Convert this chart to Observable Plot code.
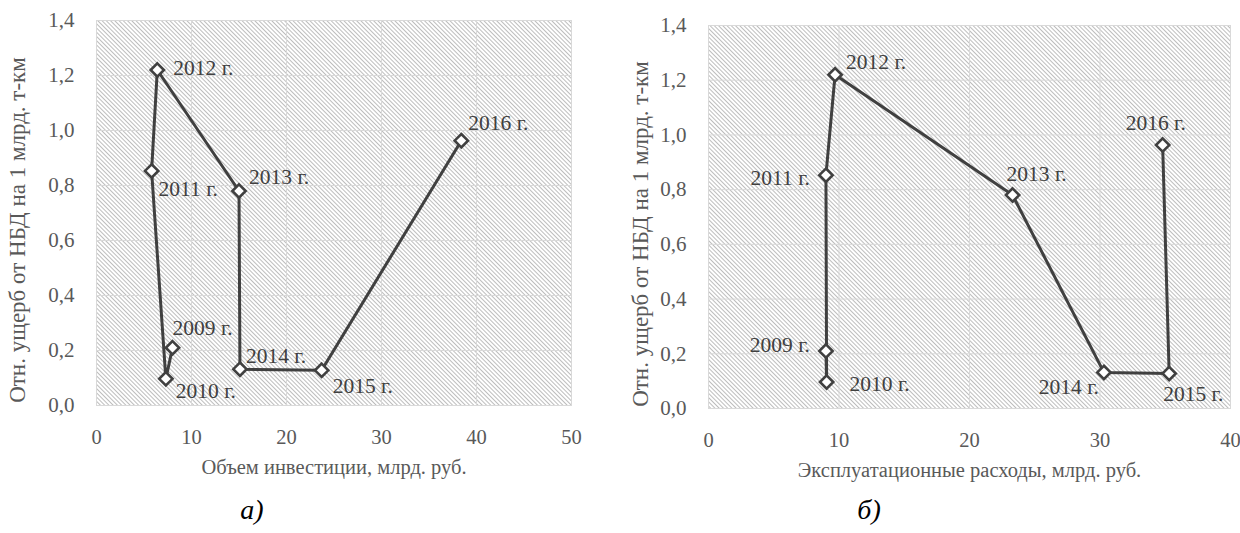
<!DOCTYPE html>
<html><head><meta charset="utf-8">
<script src="https://cdn.jsdelivr.net/npm/d3@7"></script>
<script src="https://cdn.jsdelivr.net/npm/@observablehq/plot@0.6"></script>
<style>
body{margin:0;background:#fff;width:1240px;height:533px;overflow:hidden;font-family:"Liberation Serif","Times New Roman",serif;}
#wrap{position:relative;width:1240px;height:533px;}
.panel{position:absolute;top:0;}
.panel svg, .panel svg text{font-family:"Liberation Serif","Times New Roman",serif !important;}
.cap{position:absolute;font-style:italic;font-size:28px;color:#000;font-family:"Liberation Serif","Times New Roman",serif;transform:translateX(-50%);line-height:1;}
</style></head><body>
<div id="wrap">
  <div id="pa" class="panel" style="left:0px"></div>
  <div id="pb" class="panel" style="left:620px"></div>
  <div class="cap" style="left:252px;top:496px">а)</div>
  <div class="cap" style="left:869px;top:496px">б)</div>
</div>
<script>
// ---- data ----
const years = ["2009 г.", "2010 г.", "2011 г.", "2012 г.", "2013 г.", "2014 г.", "2015 г.", "2016 г."];
const damage = [0.21, 0.097, 0.853, 1.22, 0.78, 0.132, 0.128, 0.963];
const investment = [8.0, 7.3, 5.8, 6.4, 15.0, 15.1, 23.7, 38.4];
const opex = [9.0, 9.05, 9.0, 9.7, 23.3, 30.3, 35.3, 34.8];
const xTicksA = [0, 10, 20, 30, 40, 50];
const xTicksB = [0, 10, 20, 30, 40];
const yTicks = [0, 0.2, 0.4, 0.6, 0.8, 1.0, 1.2, 1.4];
const yTitle = "Отн. ущерб от НБД на 1 млрд. т-км";
const xTitleA = "Объем инвестиции, млрд. руб.";
const xTitleB = "Эксплуатационные расходы, млрд. руб.";

// ---- label placement (styling) ----
const placeA = {
  "2009 г.": ["start", 0, -20], "2010 г.": ["start", 10, 12], "2011 г.": ["start", 7, 18],
  "2012 г.": ["start", 16, -2], "2013 г.": ["start", 10, -14], "2014 г.": ["start", 6, -13],
  "2015 г.": ["start", 11, 16], "2016 г.": ["start", 7, -18]
};
const placeB = {
  "2009 г.": ["end", -16, -6], "2010 г.": ["start", 23, 2], "2011 г.": ["end", -16, 3],
  "2012 г.": ["start", 11, -13], "2013 г.": ["start", -6, -21], "2014 г.": ["end", -5, 15],
  "2015 г.": ["start", -6, 21], "2016 г.": ["start", -37, -22]
};

const serif = '"Liberation Serif", "Times New Roman", serif';
const fmt = d => d3.format(".1f")(d).replace(".", ",");
const dark = "#404040";
const gridC = "#d9d9d9";

function panel(el, xs, xTicks, xTitle, place, m, yt, pid) {
  const rows = years.map((yr, i) => ({year: yr, x: xs[i], y: damage[i]}));
  const xmax = xTicks[xTicks.length - 1];
  const labelMarks = rows.map(r => {
    const [anchor, dx, dy] = place[r.year];
    return Plot.text([r], {x: "x", y: "y", text: "year", textAnchor: anchor, dx, dy,
      fill: dark, fontSize: 21.5, fontFamily: serif});
  });
  const chart = Plot.plot({
    width: 620, height: 490,
    marginLeft: m.l, marginRight: m.r, marginTop: m.t, marginBottom: m.b,
    style: {fontFamily: serif, fontSize: "20px", color: "#595959", background: "transparent", overflow: "visible"},
    x: {domain: [0, xmax]},
    y: {domain: [0, 1.4]},
    marks: [
      Plot.frame({fill: `url(#${pid})`, stroke: gridC}),
      Plot.gridX(xTicks, {stroke: gridC, strokeOpacity: 1, strokeWidth: 1}),
      Plot.gridY(yTicks, {stroke: gridC, strokeOpacity: 1, strokeWidth: 1}),
      Plot.axisX(xTicks, {tickSize: 0, tickPadding: 24, tickFormat: d => String(d), label: xTitle,
        labelAnchor: "center", labelArrow: "none", labelOffset: 68, fill: "#595959", fontSize: 20.5}),
      Plot.axisY(yTicks, {tickSize: 0, tickPadding: 22, tickFormat: fmt, label: null,
        fill: "#595959", fontSize: 21}),
      Plot.text([yTitle], {frameAnchor: "left", textAnchor: "middle", lineAnchor: "middle", rotate: -90,
        dx: yt.dx, dy: yt.dy, fill: "#595959", fontSize: 23, fontFamily: serif}),
      Plot.line(rows, {x: "x", y: "y", stroke: dark, strokeWidth: 3}),
      Plot.dot(rows, {x: "x", y: "y", symbol: "diamond2", r: 6, fill: "white", stroke: dark, strokeWidth: 2.6}),
      ...labelMarks
    ]
  });
  const ns = "http://www.w3.org/2000/svg";
  const defs = document.createElementNS(ns, "defs");
  defs.innerHTML = `<pattern id="${pid}" width="3" height="3" patternUnits="userSpaceOnUse" patternTransform="rotate(-45)">
      <rect width="3" height="3" fill="#ffffff"/>
      <line x1="0.5" y1="0" x2="0.5" y2="3" stroke="#bdbdbd" stroke-width="1"/>
    </pattern>`;
  chart.insertBefore(defs, chart.firstChild);
  document.getElementById(el).appendChild(chart);
}

panel("pa", investment, xTicksA, xTitleA, placeA, {l: 96, r: 49, t: 20, b: 85}, {dx: -78.5, dy: 17}, "hatchA");
panel("pb", opex, xTicksB, xTitleB, placeB, {l: 88, r: 10, t: 25, b: 82}, {dx: -68, dy: 17}, "hatchB");
</script>
</body></html>
